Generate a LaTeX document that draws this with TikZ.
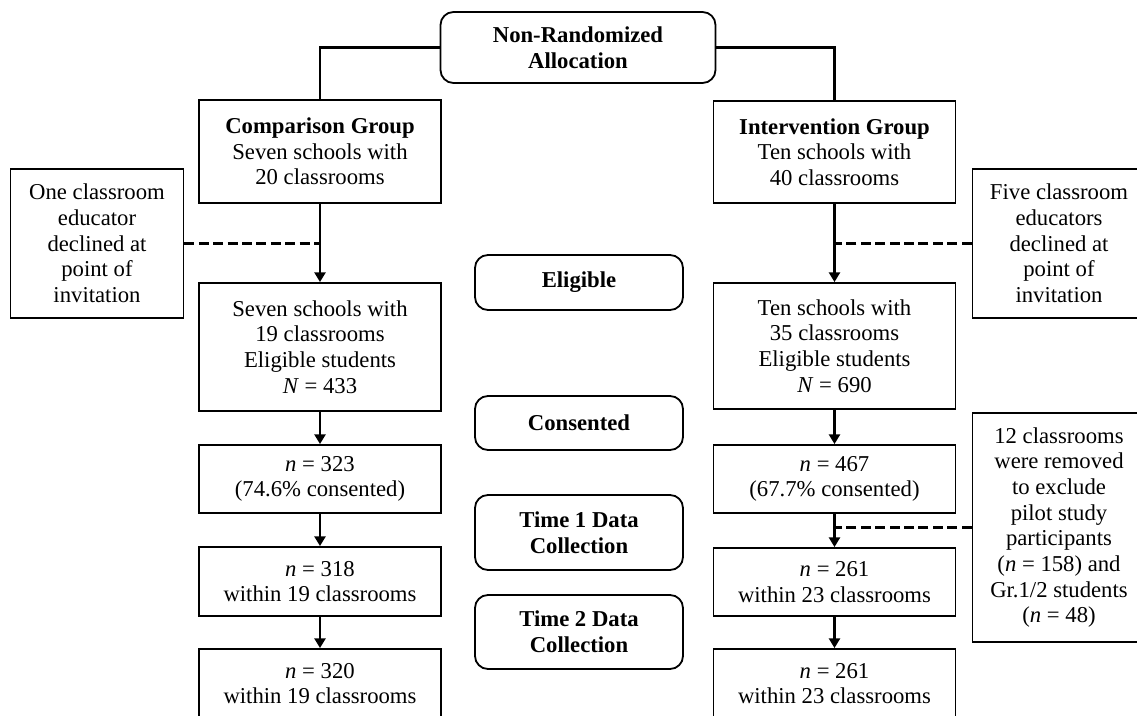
\documentclass[tikz,border=0pt]{standalone}
\usepackage{fontspec}
\setmainfont{Liberation Serif}
\usepackage{tikz}
\usetikzlibrary{arrows.meta}
\newcommand{\widthgroup}{121pt}
\newcommand{\widthnote}{86.5pt}
\newcommand{\widthstage}{104pt}
\newcommand{\boxfont}{\fontsize{11.35pt}{12.85pt}\selectfont}
\tikzset{
    common/.style={draw, rectangle, align=center, inner sep=0pt, line width=0.9pt, font=\boxfont},
    group/.style={common, minimum width=\widthgroup},
    note/.style={common, minimum width=\widthnote},
    stage/.style={common, rounded corners=6.5pt, minimum width=\widthstage, font=\boxfont\bfseries},
    link/.style={line width=1.4pt},
    flow/.style={link, -{Triangle[length=4.8pt, width=5.4pt]}},
    excluded/.style={line width=1.3pt, dash pattern=on 5pt off 2.2pt}
}

\begin{document}
\begin{tikzpicture}[x=0.5pt, y=-0.5pt]
      \useasboundingbox (0,0) rectangle (1137,716);

      \path
          (578,47.5) node[stage, minimum width=137.5pt, minimum height=35.5pt] (alloc) {Non-Randomized\\Allocation}
          (579,0)
          +(0,282.5) node[stage, minimum height=27.5pt] (eligible) {Eligible}
          +(0,423) node[stage, minimum height=27pt] (consented) {Consented}
          +(0,532.5) node[stage, minimum height=37.5pt] (time-1) {Time 1 Data\\Collection}
          +(0,632) node[stage, minimum height=37pt] (time-2) {Time 2 Data\\Collection};

      \path
          (320,0)
          +(0,151.5) node[group, minimum height=51.5pt] (comp) {\textbf{Comparison Group}\\Seven schools with\\20 classrooms}
          +(0,347) node[group, minimum height=64pt] (comp-eligible) {Seven schools with\\19 classrooms\\Eligible students\\\textit{N} = 433}
          +(0,479) node[group, minimum height=34pt] (comp-consented) {\textit{n} = 323\\(74.6\% consented)}
          +(0,581.5) node[group, minimum height=34.5pt] (comp-time-1) {\textit{n} = 318\\within 19 classrooms}
          +(0,683.5) node[group, minimum height=34.5pt] (comp-time-2) {\textit{n} = 320\\within 19 classrooms}
          (97,243.5) node[note, minimum height=74.5pt] (comp-declined) {One classroom\\educator\\declined at\\point of\\invitation};

      \path
          (834.5,0)
          +(0,152) node[group, minimum height=51pt] (int) {\textbf{Intervention Group}\\Ten schools with\\40 classrooms}
          +(0,346) node[group, minimum height=63pt] (int-eligible) {Ten schools with\\35 classrooms\\Eligible students\\\textit{N} = 690}
          +(0,479) node[group, minimum height=34pt] (int-consented) {\textit{n} = 467\\(67.7\% consented)}
          +(0,582) node[group, minimum height=34pt] (int-time-1) {\textit{n} = 261\\within 23 classrooms}
          +(0,683.5) node[group, minimum height=34.5pt] (int-time-2) {\textit{n} = 261\\within 23 classrooms}
          (1059,243.5) node[note, minimum height=74.5pt] (int-declined) {Five classroom\\educators\\declined at\\point of\\invitation}
          (1059,527.5) node[note, minimum height=114.5pt] (int-removed) {12 classrooms\\were removed\\to exclude\\pilot study\\participants\\(\textit{n} = 158) and\\Gr.1/2 students\\(\textit{n} = 48)};

      \draw[link] (alloc.west) -| (comp.north);
      \draw[link] (alloc.east) -| (int.north);
      \draw[flow] (comp) -- (comp-eligible);
      \draw[flow] (comp-eligible) -- (comp-consented);
      \draw[flow] (comp-consented) -- (comp-time-1);
      \draw[flow] (comp-time-1) -- (comp-time-2);
      \draw[flow] (int) -- (int-eligible);
      \draw[flow] (int-eligible) -- (int-consented);
      \draw[flow] (int-consented) -- (int-time-1);
      \draw[flow] (int-time-1) -- (int-time-2);
      \draw[excluded] (comp-declined.east) -- (comp-declined.east -| comp.south);
      \draw[excluded] (int-declined.west) -- (int-declined.west -| int.south);
      \draw[excluded] (int-removed.west) -- (int-removed.west -| int.south);
\end{tikzpicture}
\end{document}
